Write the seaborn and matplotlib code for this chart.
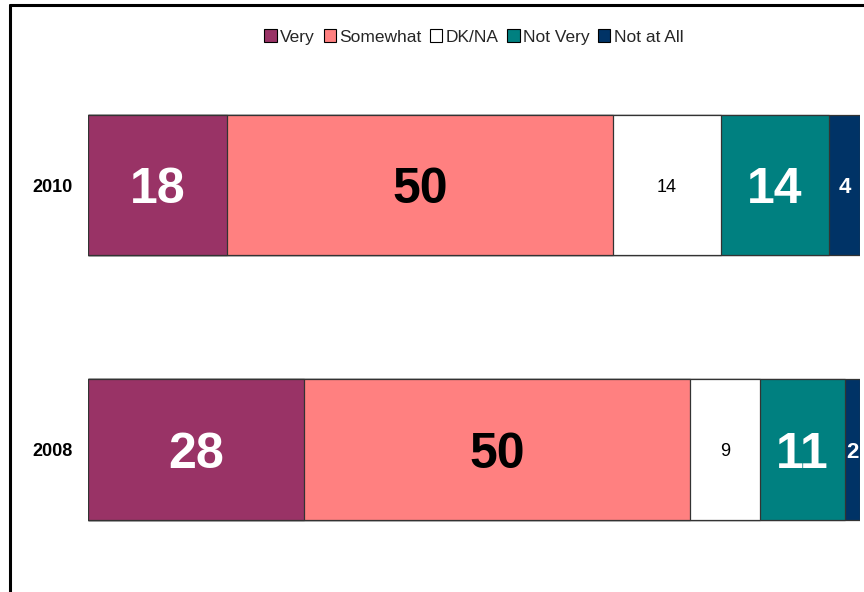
import matplotlib.pyplot as plt
import seaborn as sns
import pandas as pd
import numpy as np
from matplotlib.patches import Patch
from matplotlib.lines import Line2D

years = ["2010", "2008"]
categories = ["Very", "Somewhat", "DK/NA", "Not Very", "Not at All"]
very = [18, 28]
somewhat = [50, 50]
dk_na = [14, 9]
not_very = [14, 11]
not_at_all = [4, 2]

colors = ["#993366", "#FF8080", "#FFFFFF", "#008080", "#003366"]

df = pd.DataFrame({"year": years, "Very": very, "Somewhat": somewhat,
                   "DK/NA": dk_na, "Not Very": not_very, "Not at All": not_at_all})
cum = df[categories].cumsum(axis=1)

sns.set_style("white")
plt.rcParams["font.family"] = ["Liberation Sans", "DejaVu Sans"]

fig = plt.figure(figsize=(8.64, 5.92), dpi=100)
ax = fig.add_axes([88 / 864, 1 - 581.75 / 592, 772 / 864, 529 / 592])

# stacked bars: draw cumulative totals from the largest down
for cat, col in reversed(list(zip(categories, colors))):
    sns.barplot(x=cum[cat], y=df["year"], orient="h", color=col, width=0.53,
                edgecolor="#333333", linewidth=0.9, saturation=1, ax=ax)

# value labels
label_style = {
    "Very": dict(color="white", fontsize=36, fontweight="bold"),
    "Somewhat": dict(color="black", fontsize=36, fontweight="bold"),
    "DK/NA": dict(color="black", fontsize=13, fontweight="normal"),
    "Not Very": dict(color="white", fontsize=36, fontweight="bold"),
    "Not at All": dict(color="white", fontsize=16, fontweight="bold"),
}
for i in range(len(years)):
    for cat in categories:
        v = df.loc[i, cat]
        xc = cum.loc[i, cat] - v / 2
        ax.text(xc, i, str(v), ha="center", va="center_baseline", **label_style[cat])

ax.set_xlim(0, 100)
ax.set_ylim(1.5, -0.5)
ax.set_xlabel("")
ax.set_ylabel("")
ax.set_xticks([])
ax.tick_params(axis="y", length=0, pad=11)
for lbl in ax.get_yticklabels():
    lbl.set_fontweight("bold")
    lbl.set_fontsize(13)
    lbl.set_color("black")
sns.despine(ax=ax, left=True, bottom=True)

handles = [Patch(facecolor=c, edgecolor="black", linewidth=0.8) for c in colors]
fig.legend(handles, categories, loc="center", bbox_to_anchor=(474 / 864, 1 - 37 / 592),
           ncol=5, frameon=False, fontsize=12.5, handlelength=0.7, handleheight=0.7,
           handletextpad=0.2, columnspacing=0.5)

# outer frame (only top and left visible)
fig.add_artist(Line2D([10 / 864, 1], [1 - 5 / 592, 1 - 5 / 592], color="black", lw=2.2))
fig.add_artist(Line2D([10 / 864, 10 / 864], [0, 1 - 5 / 592], color="black", lw=2.2))

fig.savefig("out.png", dpi=100)
